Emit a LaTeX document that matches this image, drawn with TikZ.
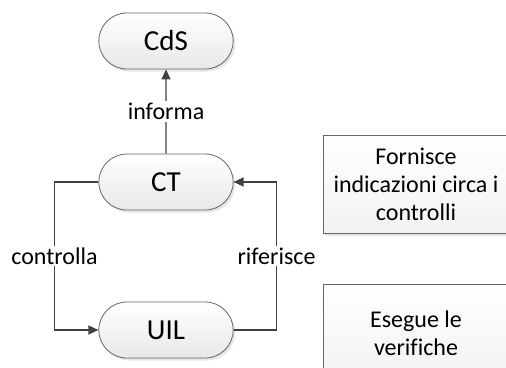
\documentclass[tikz,border=0pt]{standalone}
\usepackage{fontspec}
\setmainfont{Carlito}[Ligatures=NoCommon]
\usetikzlibrary{arrows.meta,shapes.misc,shadows}
\definecolor{linegray}{HTML}{404040}
\definecolor{bordergray}{HTML}{666666}
\definecolor{boxgray}{HTML}{F2F2F2}

\begin{document}
\begin{tikzpicture}[x=1pt,y=-1pt,>={Triangle[length=10pt,width=9pt]},node distance=141pt,
    main node/.style={rounded rectangle,draw=bordergray,line width=0.8pt,top color=white,bottom color=black!9,
        minimum width=141pt,minimum height=56pt,font=\fontsize{29}{33}\selectfont,
        drop shadow={opacity=0.2,shadow xshift=2pt,shadow yshift=-2.5pt}},
    note node/.style={rectangle,draw=bordergray,line width=0.6pt,top color=white,bottom color=boxgray,
        minimum width=186pt,minimum height=98pt,align=center,font=\fontsize{24}{28}\selectfont,
        drop shadow={opacity=0.2,shadow xshift=2pt,shadow yshift=-2.5pt}},
    link label/.style={fill=white,text=black,inner sep=2pt,font=\fontsize{24}{28}\selectfont}]
    \useasboundingbox (0,0) rectangle (506,367);

    \node[main node] (cds) at (166,41) {CdS};
    \node[main node] (ct) [below of=cds] {CT};
    \node[main node] (uil) [below of=ct,node distance=148pt] {UIL};

    \node[note node] (fornisce) at (416,184) {Fornisce\\indicazioni circa i\\controlli};
    \node[note node] (esegue) at (416,333) {Esegue le\\verifiche};

    \path[->,linegray,line width=1.4pt]
        (ct) edge node[link label] {informa} (cds)
        (ct.west) edge[to path={-- ++(-44,0) |- (\tikztotarget) \tikztonodes}] node[link label,pos=0.25] {controlla} (uil.west)
        (uil.east) edge[to path={-- ++(43,0) |- (\tikztotarget) \tikztonodes}] node[link label,pos=0.25] {riferisce} (ct.east)
    ;

\end{tikzpicture}
\end{document}
